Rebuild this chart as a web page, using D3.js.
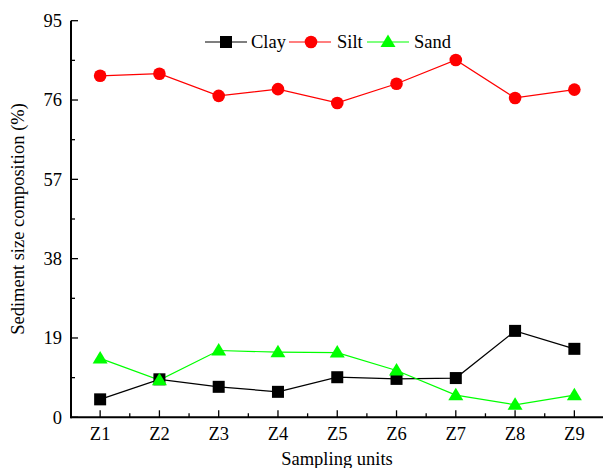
<!DOCTYPE html>
<html><head><meta charset="utf-8">
<script src="https://cdn.jsdelivr.net/npm/d3@7"></script>
</head><body style="margin:0;background:#fff">
<svg id="c" width="603" height="468" font-family="Liberation Serif" style="display:block;font-family:'Liberation Serif'"></svg>
<script>
const categories = ["Z1","Z2","Z3","Z4","Z5","Z6","Z7","Z8","Z9"];
const clay = [4.3, 9.1, 7.3, 6.1, 9.6, 9.2, 9.4, 20.7, 16.4];
const silt = [81.8, 82.3, 77.0, 78.6, 75.3, 79.9, 85.6, 76.5, 78.5];
const sand = [14.1, 8.9, 16.0, 15.6, 15.5, 11.2, 5.3, 3.0, 5.3];
const yTicks = [0, 19, 38, 57, 76, 95];
const seriesNames = ["Clay","Silt","Sand"];

const FF = "Liberation Serif";
const svg = d3.select("#c");
const x = d3.scaleLinear().domain([0.5, 9.5]).range([70.5, 604]);
const y = d3.scaleLinear().domain([0, 95]).range([417.3, 20.7]);
const fs = 18.5;

// x axis
const gx = svg.append("g").attr("transform", "translate(0,417.3)");
gx.append("line").attr("x1", 70.5).attr("x2", 603).attr("stroke", "#000").attr("stroke-width", 2);
categories.forEach((c, i) => {
  gx.append("line").attr("x1", x(i+1)).attr("x2", x(i+1)).attr("y1", 0).attr("y2", -7).attr("stroke", "#000").attr("stroke-width", 1.3);
  gx.append("line").attr("x1", x(i+1.5)).attr("x2", x(i+1.5)).attr("y1", 0).attr("y2", -4).attr("stroke", "#000").attr("stroke-width", 1.3);
  gx.append("text").attr("x", x(i+1)).attr("y", 23).attr("text-anchor", "middle").attr("font-family", FF).attr("font-size", fs).text(c);
});
// y axis
const gy = svg.append("g").attr("transform", "translate(71,0)");
gy.append("line").attr("y1", y(0)+1).attr("y2", y(95)).attr("stroke", "#000").attr("stroke-width", 2);
yTicks.forEach((t, i) => {
  gy.append("line").attr("x1", 0).attr("x2", 7).attr("y1", y(t)).attr("y2", y(t)).attr("stroke", "#000").attr("stroke-width", 1.3);
  if (i < yTicks.length - 1) {
    const m = (t + yTicks[i+1]) / 2;
    gy.append("line").attr("x1", 0).attr("x2", 4).attr("y1", y(m)).attr("y2", y(m)).attr("stroke", "#000").attr("stroke-width", 1.3);
  }
  gy.append("text").attr("x", -9).attr("y", y(t)).attr("dy", "0.35em").attr("text-anchor", "end").attr("font-family", FF).attr("font-size", fs).text(t);
});
svg.append("text").attr("x", 337).attr("y", 465).attr("text-anchor", "middle").attr("font-family", FF).attr("font-size", fs).text("Sampling units");
svg.append("text").attr("transform", "translate(24,219) rotate(-90)").attr("text-anchor", "middle").attr("font-family", FF).attr("font-size", fs).text("Sediment size composition (%)");

const line = d3.line().x((d, i) => x(i+1)).y(d => y(d));
const colors = ["#000000", "#ff0000", "#00ff00"];
const datasets = [clay, silt, sand];
function marker(g, k, cx, cy) {
  if (k === 0) g.append("rect").attr("x", cx-6).attr("y", cy-6).attr("width", 12).attr("height", 12).attr("fill", colors[0]);
  else if (k === 1) g.append("circle").attr("cx", cx).attr("cy", cy).attr("r", 6.3).attr("fill", colors[1]);
  else g.append("path").attr("d", `M${cx},${cy-7.5}L${cx+7.5},${cy+5}L${cx-7.5},${cy+5}Z`).attr("fill", colors[2]);
}
datasets.forEach((ds, k) => {
  svg.append("path").datum(ds).attr("d", line).attr("fill", "none").attr("stroke", colors[k]).attr("stroke-width", 1.2);
});
datasets.forEach((ds, k) => {
  const g = svg.append("g");
  ds.forEach((v, i) => marker(g, k, x(i+1), y(v)));
});
// legend
const leg = [{x0: 205, mk: 226, tx: 251}, {x0: 289, mk: 311, tx: 337}, {x0: 367, mk: 388, tx: 414}];
leg.forEach((l, k) => {
  const ly = 42;
  svg.append("line").attr("x1", l.x0).attr("x2", l.x0+42).attr("y1", ly).attr("y2", ly).attr("stroke", colors[k]).attr("stroke-width", 1.2);
  marker(svg, k, l.mk, ly);
  svg.append("text").attr("x", l.tx).attr("y", ly).attr("dy", "0.35em").attr("font-family", FF).attr("font-size", fs).text(seriesNames[k]);
});
</script></body></html>
